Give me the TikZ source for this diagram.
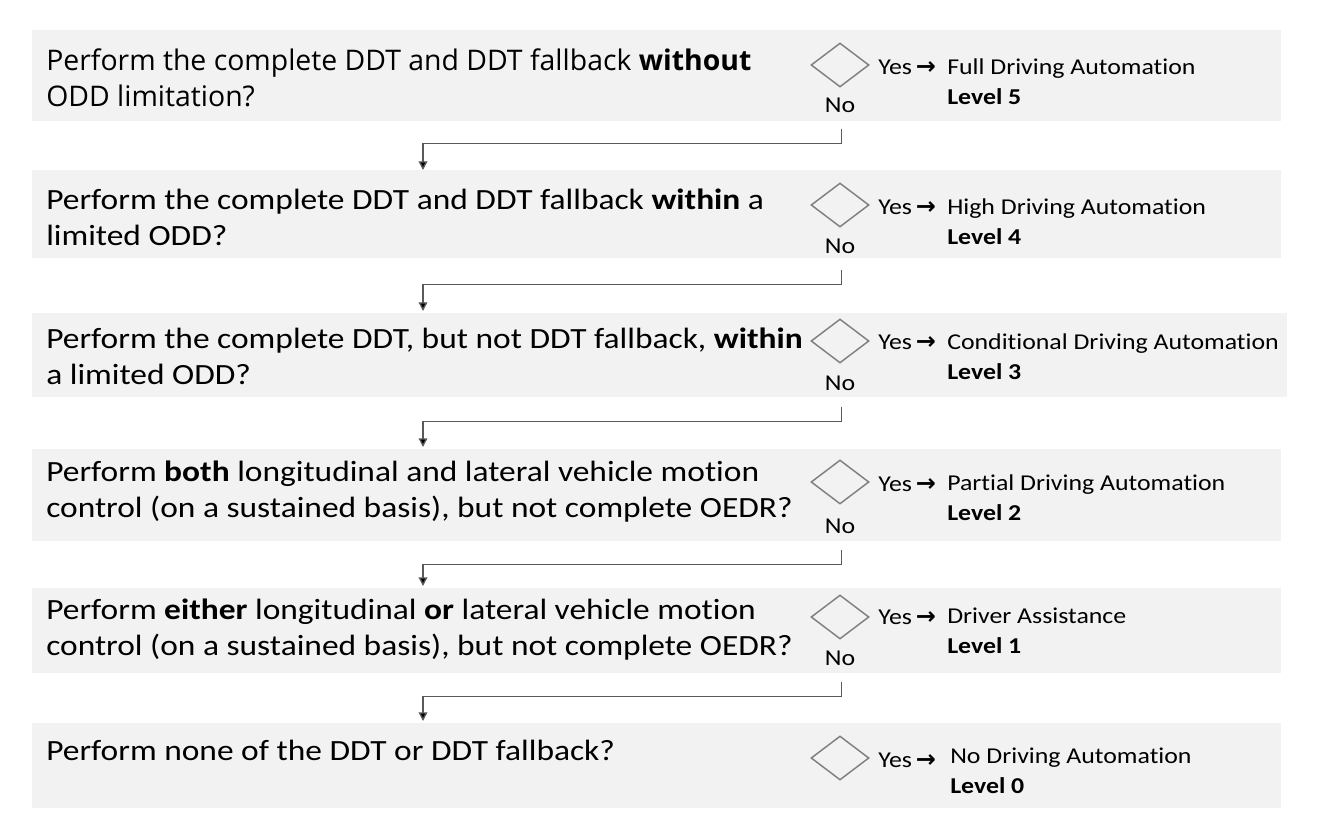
\documentclass[tikz,border=0pt]{standalone}
\usepackage{fontspec}
\setmainfont[FakeStretch=1.14,Ligatures=NoCommon]{Carlito}
\newfontfamily\rowonefont{Open Sans}
\newfontfamily\arrowfont{DejaVu Sans}
\usepackage{tikz}
\usetikzlibrary{shapes.geometric,arrows.meta}

\definecolor{bandgray}{HTML}{F2F2F2}
\definecolor{edgegray}{HTML}{808080}
\definecolor{linegray}{HTML}{5A5A5A}

\newcommand{\yesarrow}{Yes\kern3pt{\arrowfont\bfseries\fontsize{18}{18}\selectfont →}}

\begin{document}
\begin{tikzpicture}[x=0.75pt,y=-0.75pt,
	question/.style={anchor=west,align=left,inner sep=0pt,font=\fontsize{22}{27}\selectfont},
	decision/.style={diamond,draw=edgegray,line width=1.1pt,minimum width=43.5pt,minimum height=33pt,inner sep=0pt},
	yestext/.style={anchor=west,inner sep=0pt,font=\fontsize{17}{22.5}\selectfont},
	answer/.style={anchor=west,align=left,inner sep=0pt,font=\fontsize{17}{22.5}\selectfont},
	notext/.style={inner sep=0pt,font=\fontsize{17}{20}\selectfont},
	conn/.style={draw=linegray,line width=1pt,-{Triangle[length=6.5pt,width=6.5pt,fill=black]}}]
	\useasboundingbox (0,0) rectangle (1322,838);

	% bands
	\fill[bandgray] (32,30) rectangle (1281,121);
	\fill[bandgray] (32,170) rectangle (1281,258);
	\fill[bandgray] (32,313) rectangle (1287,397);
	\fill[bandgray] (32,449) rectangle (1281,541);
	\fill[bandgray] (32,588) rectangle (1281,673);
	\fill[bandgray] (32,723) rectangle (1281,808);

	% questions
	\node[question,font=\rowonefont\fontsize{21.3}{27}\selectfont] (q1) at (46,78)
		{Perform the complete DDT and DDT fallback \textbf{without}\\ODD limitation?};
	\node[question] (q2) at (46,217)
		{Perform the complete DDT and DDT fallback \textbf{within} a\\limited ODD?};
	\node[question] (q3) at (46,356)
		{Perform the complete DDT, but not DDT fallback, \textbf{within}\\a limited ODD?};
	\node[question] (q4) at (46,492)
		{Perform \textbf{both} longitudinal and lateral vehicle motion\\control (on a sustained basis), but not complete OEDR?};
	\node[question] (q5) at (46,630)
		{Perform \textbf{either} longitudinal \textbf{or} lateral vehicle motion\\control (on a sustained basis), but not complete OEDR?};
	\node[question] (q6) at (46,750)
		{Perform none of the DDT or DDT fallback?};

	% decisions
	\node[decision] (d1) at (840,65) {};
	\node[decision] (d2) at (840,205) {};
	\node[decision] (d3) at (840,341) {};
	\node[decision] (d4) at (840,482) {};
	\node[decision] (d5) at (840,617) {};
	\node[decision] (d6) at (840,758) {};

	% yes branches
	\node[yestext] (y1) at (878,67) {\yesarrow};
	\node[yestext] (y2) at (878,207) {\yesarrow};
	\node[yestext] (y3) at (878,342) {\yesarrow};
	\node[yestext] (y4) at (878,484) {\yesarrow};
	\node[yestext] (y5) at (878,617) {\yesarrow};
	\node[yestext] (y6) at (878,760) {\yesarrow};

	\node[answer] (a1) at (947,82) {Full Driving Automation\\\textbf{Level 5}};
	\node[answer] (a2) at (947,222) {High Driving Automation\\\textbf{Level 4}};
	\node[answer] (a3) at (947,357) {Conditional Driving Automation\\\textbf{Level 3}};
	\node[answer] (a4) at (947,498) {Partial Driving Automation\\\textbf{Level 2}};
	\node[answer] (a5) at (947,631) {Driver Assistance\\\textbf{Level 1}};
	\node[answer] (a6) at (950,771) {No Driving Automation\\\textbf{Level 0}};

	% no branches
	\node[notext] (n1) at (840,105) {No};
	\node[notext] (n2) at (840,246) {No};
	\node[notext] (n3) at (840,383) {No};
	\node[notext] (n4) at (840,526) {No};
	\node[notext] (n5) at (840,658) {No};

	\coordinate (t2) at (423,170);
	\coordinate (t3) at (423,311);
	\coordinate (t4) at (423,447);
	\coordinate (t5) at (423,586);
	\coordinate (t6) at (423,721);

	\draw[conn] ([xshift=1pt,yshift=-12pt]n1.south) -- ++(0,15) -| (t2);
	\draw[conn] ([xshift=1pt,yshift=-12pt]n2.south) -- ++(0,15) -| (t3);
	\draw[conn] ([xshift=1pt,yshift=-12pt]n3.south) -- ++(0,15) -| (t4);
	\draw[conn] ([xshift=1pt,yshift=-12pt]n4.south) -- ++(0,15) -| (t5);
	\draw[conn] ([xshift=1pt,yshift=-12pt]n5.south) -- ++(0,15) -| (t6);
\end{tikzpicture}
\end{document}
